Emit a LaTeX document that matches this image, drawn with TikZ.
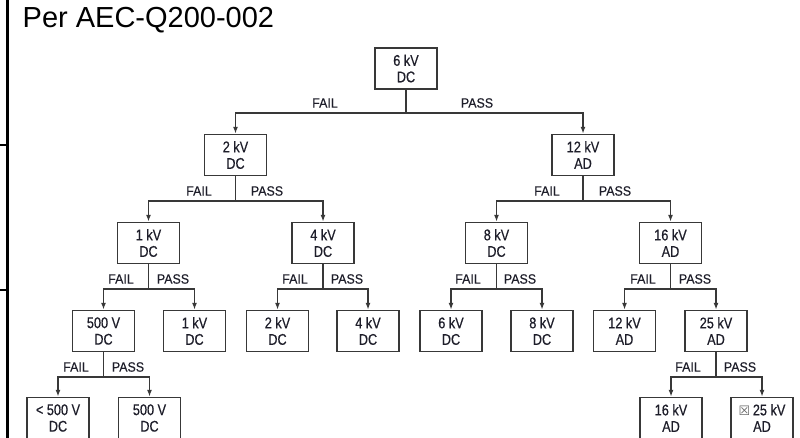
\documentclass[tikz,border=0pt]{standalone}
\usepackage{fontspec}
\setmainfont{Liberation Sans}
\newfontfamily\boxfont[FakeStretch=0.82,FakeBold=0.5]{Liberation Sans}
\newfontfamily\lblfont[FakeStretch=0.92,FakeBold=0.4]{Liberation Sans}
\newfontfamily\symfont{DejaVu Sans}
\usetikzlibrary{arrows.meta,positioning}
\definecolor{tline}{HTML}{383838}
\definecolor{ttext}{HTML}{1E1E2A}
\tikzset{
  >={Latex[length=7pt,width=5pt]},
  tbox/.style={draw=tline, line width=1.4pt, minimum width=62pt, minimum height=41pt,
               inner sep=0pt, align=center, text=ttext,
               font=\boxfont\fontsize{15.5}{16.5}\selectfont},
  tlink/.style={draw=tline, line width=1.4pt},
  tarrow/.style={tlink, ->},
  tlbl/.style={text=ttext, font=\lblfont\fontsize{13.5}{15}\selectfont, inner sep=0pt},
  tframe/.style={black, line width=3.8pt},
  ttick/.style={black, line width=1.5pt},
}

\begin{document}
\begin{tikzpicture}[x=1pt,y=-1pt]
  \useasboundingbox (0,0) rectangle (800,438);
  \clip (0,0) rectangle (800,438);

  % cadre de gauche
  \draw[tframe] (7.5,0) -- (7.5,438);
  \draw[ttick] (0,145) -- (6,145);
  \draw[ttick] (0,290) -- (6,290);

  \node[anchor=base west, inner sep=0pt, font=\fontsize{29}{34}\selectfont] (title)
       at (22.5,28) {Per AEC-Q200-002};

  % niveau 1 et 2
  \node[tbox] (r)  at (406,68.5) {6 kV\\DC};
  \node[tbox] (f)  at (235.5,155) {2 kV\\DC};
  \node[tbox] (p)  at (583,155)   {12 kV\\AD};

  % niveau 3
  \node[tbox] (ff) at (148.5,243) {1 kV\\DC};
  \node[tbox] (fp) at (323,243)   {4 kV\\DC};
  \node[tbox] (pf) at (496.5,243) {8 kV\\DC};
  \node[tbox] (pp) at (670.5,243) {16 kV\\AD};

  % niveau 4
  \node[tbox] (fff) at (103.5,331) {500 V\\DC};
  \node[tbox] (ffp) at (194.5,331) {1 kV\\DC};
  \node[tbox] (fpf) at (277.5,331) {2 kV\\DC};
  \node[tbox] (fpp) at (368,331)   {4 kV\\DC};
  \node[tbox] (pff) at (451,331)   {6 kV\\DC};
  \node[tbox] (pfp) at (542,331)   {8 kV\\DC};
  \node[tbox] (ppf) at (624.5,331) {12 kV\\AD};
  \node[tbox] (ppp) at (716,331)   {25 kV\\AD};

  % niveau 5
  \node[tbox] (ffff) at (58,418)    {< 500 V\\DC};
  \node[tbox] (fffp) at (149.5,418) {500 V\\DC};
  \node[tbox] (pppf) at (671,418)   {16 kV\\AD};
  \node[tbox] (pppp) at (762,418)   {{\symfont\fontsize{13}{16}\selectfont\color{black!60}☒}\,25 kV\\AD};

  % branches FAIL / PASS
  \foreach \a/\b/\c/\y/\fx/\px in {r/f/p/113/325/477, f/ff/fp/201/199/267,
      p/pf/pp/201/547/615, ff/fff/ffp/289/121/173, fp/fpf/fpp/289/295/347,
      pf/pff/pfp/289/468/520, pp/ppf/ppp/289/643/695,
      fff/ffff/fffp/377/76/128, ppp/pppf/pppp/377/688/740}
  {
    \draw[tlink] (\a.south) -- (\a.south |- 0,\y) coordinate (s\a);
    \draw[tarrow] (s\a) -| (\b.north);
    \draw[tarrow] (s\a) -| (\c.north);
    \node[tlbl] (fail\a) at (\fx,\y-10) {FAIL};
    \node[tlbl] (pass\a) at (\px,\y-10) {PASS};
  }

\end{tikzpicture}
\end{document}
